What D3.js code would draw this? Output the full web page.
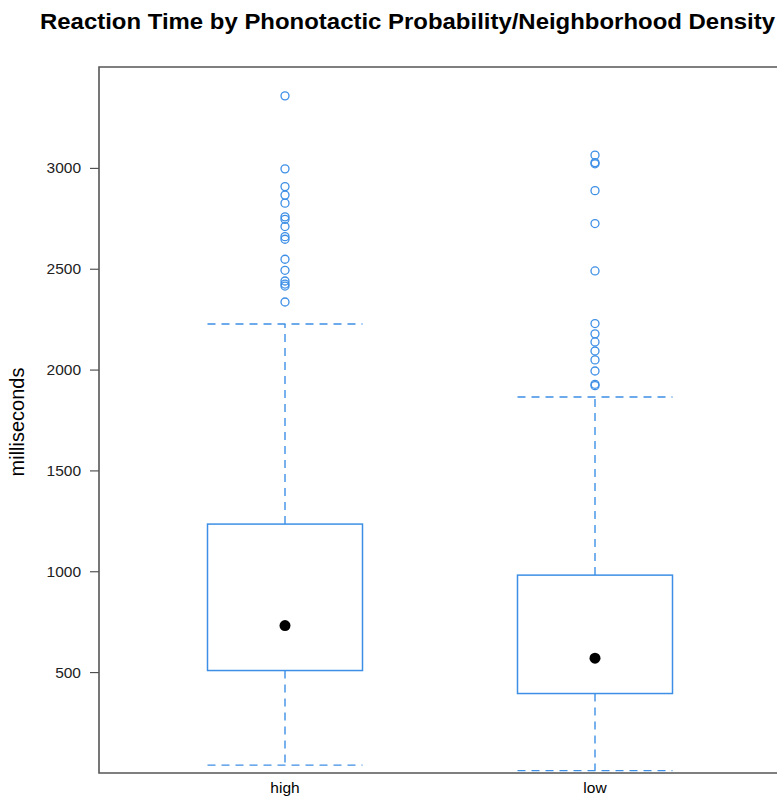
<!DOCTYPE html>
<html>
<head>
<meta charset="utf-8">
<script src="https://cdn.jsdelivr.net/npm/d3@7"></script>
<style>
  html, body { margin: 0; padding: 0; background: #fff; }
  svg { display: block; font-family: "Liberation Sans", Arial, Helvetica, sans-serif; }
</style>
</head>
<body>
<svg id="chart" width="777" height="797"></svg>
<script>
// --- data ---
const groups = ["high", "low"];
const whiskerLow  = [39, 12];
const boxLow      = [508, 394];
const medians     = [731, 569];
const boxHigh     = [1234, 981];
const whiskerHigh = [2226, 1864];
const outliers = [
  [3357, 2995, 2907, 2865, 2825, 2757, 2745, 2709, 2659, 2646, 2547, 2492, 2439, 2424, 2414, 2335],
  [3063, 3026, 3020, 2887, 2724, 2489, 2228, 2177, 2137, 2092, 2048, 1993, 1927, 1920]
];
const yTicks = [500, 1000, 1500, 2000, 2500, 3000];

const blue = "#3d8fe6";

const svg = d3.select("#chart");
const pLeft = 99, pRight = 781, pTop = 67, pBottom = 773;

// lattice style: categories at 1..n, domain padded by 0.6
const x = d3.scaleLinear().domain([0.4, groups.length + 0.6]).range([pLeft, pRight]);
const y = d3.scaleLinear().domain([0, 3500]).range([pBottom, pTop]);
const boxW = x(1.5) - x(1.0);

// title
svg.append("text")
  .attr("x", 40).attr("y", 29)
  .attr("textLength", 735).attr("lengthAdjust", "spacingAndGlyphs")
  .style("font-size", "22.5px").style("font-weight", "bold")
  .text("Reaction Time by Phonotactic Probability/Neighborhood Density");

// y axis label
svg.append("text")
  .attr("transform", `translate(24, 422) rotate(-90)`)
  .attr("text-anchor", "middle")
  .style("font-size", "20px")
  .text("milliseconds");

// y axis
const yAxis = svg.append("g")
  .attr("transform", `translate(${pLeft},0)`)
  .call(d3.axisLeft(y).tickValues(yTicks).tickSize(9).tickPadding(9).tickFormat(d3.format("d")));
yAxis.select(".domain").remove();
yAxis.selectAll(".tick line").attr("stroke", "#333");
yAxis.selectAll(".tick text").style("font-size", "15.5px").style("font-family", "Liberation Sans, Arial, sans-serif").attr("fill", "#222");

// x labels
svg.selectAll("text.xlab")
  .data(groups)
  .join("text")
  .attr("class", "xlab")
  .attr("x", (d, i) => x(i + 1))
  .attr("y", 793)
  .attr("text-anchor", "middle")
  .style("font-size", "15.5px")
  .text(d => d);

// panel frame (right edge lies outside the window)
svg.append("path")
  .attr("d", `M${pRight},${pTop}H${pLeft}V${pBottom}H${pRight}`)
  .attr("fill", "none").attr("stroke", "#555").attr("stroke-width", 1.6);

const g = svg.selectAll("g.box")
  .data(groups)
  .join("g")
  .attr("class", "box");

g.each(function (d, i) {
  const sel = d3.select(this);
  const cx = x(i + 1);
  const dash = "8,6";

  // whiskers
  sel.append("line")
    .attr("x1", cx).attr("x2", cx)
    .attr("y1", y(boxHigh[i])).attr("y2", y(whiskerHigh[i]))
    .attr("stroke", blue).attr("stroke-width", 1.4).attr("stroke-dasharray", dash);
  sel.append("line")
    .attr("x1", cx).attr("x2", cx)
    .attr("y1", y(boxLow[i])).attr("y2", y(whiskerLow[i]))
    .attr("stroke", blue).attr("stroke-width", 1.4).attr("stroke-dasharray", dash);
  [whiskerHigh[i], whiskerLow[i]].forEach(v => {
    sel.append("line")
      .attr("x1", cx - boxW / 2).attr("x2", cx + boxW / 2)
      .attr("y1", y(v)).attr("y2", y(v))
      .attr("stroke", blue).attr("stroke-width", 1.4).attr("stroke-dasharray", dash);
  });

  // box
  sel.append("rect")
    .attr("x", cx - boxW / 2).attr("width", boxW)
    .attr("y", y(boxHigh[i])).attr("height", y(boxLow[i]) - y(boxHigh[i]))
    .attr("fill", "none").attr("stroke", blue).attr("stroke-width", 1.5);

  // median dot
  sel.append("circle")
    .attr("cx", cx).attr("cy", y(medians[i])).attr("r", 5.5)
    .attr("fill", "#000");

  // outliers
  sel.selectAll("circle.out")
    .data(outliers[i])
    .join("circle")
    .attr("class", "out")
    .attr("cx", cx).attr("cy", v => y(v)).attr("r", 4)
    .attr("fill", "none").attr("stroke", blue).attr("stroke-width", 1.3);
});
</script>
</body>
</html>
